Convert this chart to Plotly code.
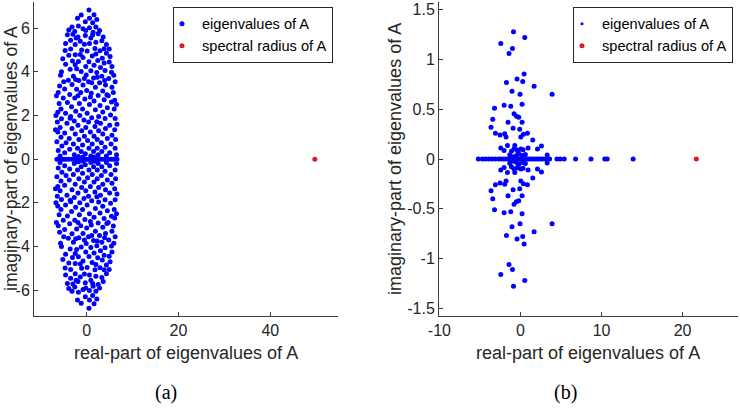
import plotly.graph_objects as go

# ---------------- data ----------------
# panel (a): eigenvalues with positive imaginary part (conjugates mirrored below)
a_upper = [
    (0.5, 6.83), (-1.2, 6.6), (1.6, 6.62), (0.6, 6.45), (-2.0, 6.45), (-0.3, 6.3), (1.3, 6.25),
    (2.2, 6.4), (-3.2, 6.05), (-1.8, 6.1), (-0.8, 5.97), (0.6, 6.02), (2.0, 6.05), (2.8, 5.9),
    (-3.9, 5.92), (-2.6, 5.85), (1.4, 5.82),
    (-4.2, 5.7), (-3.0, 5.72), (2.5, 5.74), (-0.3, 5.66), (0.9, 5.55), (-1.9, 5.6), (3.6, 5.6),
    (-3.5, 5.45), (3.3, 5.42), (2.0, 5.36), (-1.4, 5.4), (-4.6, 5.3), (-2.5, 5.25), (-0.5, 5.26),
    (0.6, 5.3), (4.3, 5.25), (3.8, 5.06), (-3.5, 5.05), (1.8, 5.07), (-1.1, 5.0), (2.9, 4.97),
    (0.1, 4.96), (-2.3, 5.55), (1.3, 5.7), (-0.2, 5.9), (4.9, 5.05), (-4.7, 4.98),
    (4.3, 4.85), (-3.9, 4.76), (-2.5, 4.78), (1.2, 4.73), (-0.8, 4.66), (3.4, 4.62), (-3.1, 4.5),
    (0.5, 4.46), (-1.8, 4.47), (2.4, 4.52), (4.9, 4.45), (-4.6, 4.35), (1.6, 4.3), (-0.2, 4.25),
    (3.0, 4.2), (-2.5, 4.32), (0.9, 4.05), (4.0, 4.06), (-1.2, 4.02), (-3.6, 4.12), (2.2, 3.97),
    (5.4, 3.98), (-5.5, 4.0), (-2.2, 4.14), (3.8, 4.4), (-1.4, 4.8), (2.0, 4.82), (5.5, 4.25),
    (-5.2, 4.6), (5.1, 4.7),
    (-0.1, 3.86), (3.3, 3.8), (-2.9, 3.8), (1.5, 3.72), (4.8, 3.7), (-4.0, 3.62), (-1.7, 3.6),
    (0.4, 3.55), (2.8, 3.5), (-0.8, 3.4), (-3.2, 3.42), (4.1, 3.4), (5.5, 3.3), (1.9, 3.3),
    (-4.8, 3.22), (-2.2, 3.2), (0.0, 3.15), (3.5, 3.12), (-1.3, 3.05), (1.0, 3.02), (5.8, 3.06),
    (-3.7, 2.96), (2.5, 2.92), (4.7, 2.9), (-5.0, 3.55), (1.1, 3.5), (-2.4, 3.65), (3.9, 3.6),
    (-0.5, 3.7), (2.3, 3.75), (-5.9, 3.35), (6.2, 3.55), (-5.7, 3.85), (5.9, 3.85), (-6.2, 3.05),
    (-5.1, 2.8), (-2.6, 2.8), (-0.4, 2.76), (3.8, 2.72), (1.6, 2.66), (-4.2, 2.6), (5.4, 2.62),
    (-1.6, 2.55), (0.6, 2.5), (2.9, 2.46), (-3.3, 2.4), (4.5, 2.36), (-5.6, 2.3), (-0.9, 2.3),
    (1.9, 2.26), (6.0, 2.3), (-2.4, 2.2), (3.5, 2.16), (0.1, 2.1), (-6.3, 2.15), (-4.6, 2.1),
    (5.2, 2.02), (-1.5, 2.0), (2.6, 1.96), (-3.5, 1.95), (0.8, 2.85), (-1.9, 2.9), (4.4, 2.95),
    (6.1, 2.7), (-6.0, 2.55), (6.5, 2.5), (-6.6, 2.9),
    (1.1, 1.9), (6.2, 1.86), (-5.5, 1.85), (4.0, 1.86), (-0.6, 1.8), (-2.7, 1.75), (-6.4, 1.7),
    (0.4, 1.7), (3.0, 1.65), (-4.3, 1.65), (5.0, 1.55), (-1.9, 1.55), (1.8, 1.5), (-5.8, 1.45),
    (-0.2, 1.45), (4.1, 1.4), (-3.2, 1.4), (6.1, 1.35), (2.6, 1.3), (-1.1, 1.3), (-6.3, 1.25),
    (0.8, 1.25), (-4.8, 1.2), (3.5, 1.15), (5.5, 1.1), (-2.5, 1.15), (1.6, 1.05), (-0.5, 1.05),
    (-5.6, 1.0), (2.2, 1.72), (-3.6, 1.88), (6.6, 1.6), (-6.8, 1.35), (-6.7, 2.0),
    (-3.8, 0.95), (4.5, 0.95), (2.3, 0.9), (6.3, 0.9), (-1.7, 0.9), (0.2, 0.85), (-6.5, 0.8),
    (3.2, 0.75), (-4.5, 0.75), (1.2, 0.7), (-2.9, 0.7), (5.3, 0.7), (-0.9, 0.65), (-5.4, 0.6),
    (4.0, 0.55), (2.3, 0.5), (-2.0, 0.5), (6.2, 0.5), (0.5, 0.5), (-3.7, 0.45), (-6.2, 0.4),
    (1.5, 0.35), (-1.2, 0.35), (3.3, 0.35), (5.0, 0.3), (-4.8, 0.3), (-0.3, 0.25), (2.5, 0.2),
    (6.5, 0.2), (-2.7, 0.2), (0.9, 0.15), (-5.8, 0.15), (4.3, 0.15), (-1.8, 0.12), (-0.8, 0.1),
    (1.8, 0.1),
]
# panel (a): real eigenvalues
a_real = [-6.5, -5.9, -5.2, -4.6, -3.9, -3.2, -2.6, -2.1, -1.5, -1.0, -0.4, 0.0, 0.5, 1.1,
          1.7, 2.4, 3.1, 3.8, 4.6, 5.3, 5.9, 6.6]
a_radius = [49.7]

# panel (b)
b_upper = [
    (-0.86, 1.28), (0.53, 1.22), (-2.43, 1.16), (-0.99, 1.11), (-1.41, 1.06), (0.45, 0.855),
    (-0.42, 0.805), (0.28, 0.78), (-1.73, 0.77), (1.68, 0.73), (3.9, 0.65), (-1.04, 0.68),
    (-0.05, 0.65), (-2.02, 0.54), (-1.2, 0.53), (0.2, 0.55), (-3.2, 0.51), (-3.42, 0.40),
    (-0.79, 0.455), (-0.5, 0.43), (-0.21, 0.42), (-1.53, 0.37), (0.2, 0.37), (-3.63, 0.32),
    (-0.91, 0.31), (-0.09, 0.30), (0.37, 0.25), (0.86, 0.26), (-3.09, 0.26), (-2.52, 0.24),
    (-1.94, 0.255), (-1.78, 0.22), (0.04, 0.22), (1.52, 0.19), (-2.43, 0.11), (-1.6, 0.135),
    (-0.7, 0.135), (2.59, 0.13), (2.1, 0.10), (-2.02, 0.085), (0.94, 0.11), (0.32, 0.094),
    (-1.11, 0.077), (-0.3, 0.067), (-1.32, 0.043), (3.3, 0.04), (-0.6, 0.03), (-0.2, 0.05),
    (0.2, 0.035), (-1.0, 0.02), (0.6, 0.045), (-0.4, 0.09), (0.05, 0.1), (-0.8, 0.1),
]
b_real = [-5.2, -4.7, -4.3, -3.9, -3.5, -3.1, -2.7, -2.4, -2.1, -1.8, -1.5, -1.3, -1.1, -0.9,
          -0.7, -0.5, -0.35, -0.2, -0.05, 0.1, 0.25, 0.4, 0.6, 0.8, 1.0, 1.3, 1.6, 1.9, 2.2,
          2.5, 2.8, 3.1, 3.6, 4.5, 4.9, 5.4, 6.8, 8.7, 10.4, 10.7, 13.9]
b_radius = [21.7]

a_xticks = [0, 20, 40]
a_yticks = [-6, -4, -2, 0, 2, 4, 6]
b_xticks = [-10, 0, 10, 20]
b_yticks = [-1.5, -1, -0.5, 0, 0.5, 1, 1.5]
b_yticktext = ["-1.5", "-1", "-0.5", "0", "0.5", "1", "1.5"]


def with_conjugates(upper, real):
    re = [p[0] for p in upper] + [p[0] for p in upper] + list(real)
    im = [p[1] for p in upper] + [-p[1] for p in upper] + [0.0] * len(real)
    return re, im


a_re, a_im = with_conjugates(a_upper, a_real)
b_re, b_im = with_conjugates(b_upper, b_real)

BLUE = "#0000ff"
RED = "#e4162b"
TXT = "#262626"
FONT = "Liberation Sans, Arial, Helvetica, sans-serif"

fig = go.Figure()
# panel (a)
fig.add_trace(go.Scatter(x=a_re, y=a_im, mode="markers", xaxis="x", yaxis="y",
                         marker=dict(color=BLUE, size=5), showlegend=False))
fig.add_trace(go.Scatter(x=a_radius, y=[0], mode="markers", xaxis="x", yaxis="y",
                         marker=dict(color=RED, size=5), showlegend=False))
fig.add_trace(go.Scatter(x=[None], y=[None], mode="markers", xaxis="x", yaxis="y",
                         marker=dict(color=BLUE, size=5), name="eigenvalues of A", legend="legend"))
fig.add_trace(go.Scatter(x=[None], y=[None], mode="markers", xaxis="x", yaxis="y",
                         marker=dict(color=RED, size=5), name="spectral radius of A", legend="legend"))
# panel (b)
fig.add_trace(go.Scatter(x=b_re, y=b_im, mode="markers", xaxis="x2", yaxis="y2",
                         marker=dict(color=BLUE, size=5), showlegend=False))
fig.add_trace(go.Scatter(x=b_radius, y=[0], mode="markers", xaxis="x2", yaxis="y2",
                         marker=dict(color=RED, size=5), showlegend=False))
fig.add_trace(go.Scatter(x=[None], y=[None], mode="markers", xaxis="x2", yaxis="y2",
                         marker=dict(color=BLUE, size=3), name="eigenvalues of A", legend="legend2"))
fig.add_trace(go.Scatter(x=[None], y=[None], mode="markers", xaxis="x2", yaxis="y2",
                         marker=dict(color=RED, size=5), name="spectral radius of A", legend="legend2"))

W, H = 740, 410
ytop, ybot = 2, 315.7


def px_x(v):
    return v / W


def px_y(v):
    return 1 - v / H


axis_common = dict(showline=True, linecolor="#3a3a3a", linewidth=1, ticks="inside", ticklen=4,
                   tickcolor="#3a3a3a", showgrid=False, zeroline=False, automargin=False,
                   tickfont=dict(family=FONT, size=16, color=TXT), mirror=False)

legend_common = dict(font=dict(family=FONT, size=14.6, color="#000000"), bgcolor="white",
                     bordercolor="#262626", borderwidth=1, xanchor="right", yanchor="top",
                     itemsizing="trace", tracegroupgap=0, indentation=-12)

fig.update_layout(
    width=W, height=H, margin=dict(l=0, r=0, t=0, b=0),
    paper_bgcolor="white", plot_bgcolor="white",
    xaxis=dict(domain=[px_x(34), px_x(338)], range=[-11.48, 54.75], anchor="y",
               tickvals=a_xticks, **axis_common),
    yaxis=dict(domain=[px_y(ybot), px_y(ytop)], range=[-7.17, 7.2], anchor="x",
               tickvals=a_yticks, ticktext=[str(v) for v in a_yticks], **axis_common),
    xaxis2=dict(domain=[px_x(439), px_x(737.7)], range=[-10.05, 26.8], anchor="y2",
                tickvals=b_xticks, ticktext=[str(v) for v in b_xticks], **axis_common),
    yaxis2=dict(domain=[px_y(ybot), px_y(ytop)], range=[-1.575, 1.578], anchor="x2",
                tickvals=b_yticks, ticktext=b_yticktext, **axis_common),
    legend=dict(x=px_x(333), y=px_y(6.7), **legend_common),
    legend2=dict(x=px_x(733), y=px_y(6.7), **legend_common),
    annotations=[
        dict(text="real-part of eigenvalues of A", x=px_x(186), y=px_y(353), xref="paper",
             yref="paper", showarrow=False, xanchor="center", yanchor="middle",
             font=dict(family=FONT, size=18, color=TXT)),
        dict(text="real-part of eigenvalues of A", x=px_x(588), y=px_y(353), xref="paper",
             yref="paper", showarrow=False, xanchor="center", yanchor="middle",
             font=dict(family=FONT, size=18, color=TXT)),
        dict(text="imaginary-part of eigenvalues of A", x=0, y=px_y(159), xref="paper",
             yref="paper", showarrow=False, xanchor="left", yanchor="middle", textangle=-90,
             borderpad=0, font=dict(family=FONT, size=17.5, color=TXT)),
        dict(text="imaginary-part of eigenvalues of A", x=px_x(395), y=px_y(159), xref="paper",
             yref="paper", showarrow=False, xanchor="center", yanchor="middle", textangle=-90,
             font=dict(family=FONT, size=18, color=TXT)),
        dict(text="(a)", x=px_x(165.5), y=px_y(392), xref="paper", yref="paper", showarrow=False,
             xanchor="center", yanchor="middle",
             font=dict(family="Liberation Serif, DejaVu Serif, serif", size=20, color="#000000")),
        dict(text="(b)", x=px_x(565), y=px_y(392), xref="paper", yref="paper", showarrow=False,
             xanchor="center", yanchor="middle",
             font=dict(family="Liberation Serif, DejaVu Serif, serif", size=20, color="#000000")),
    ],
)

fig.write_html("out.html")
